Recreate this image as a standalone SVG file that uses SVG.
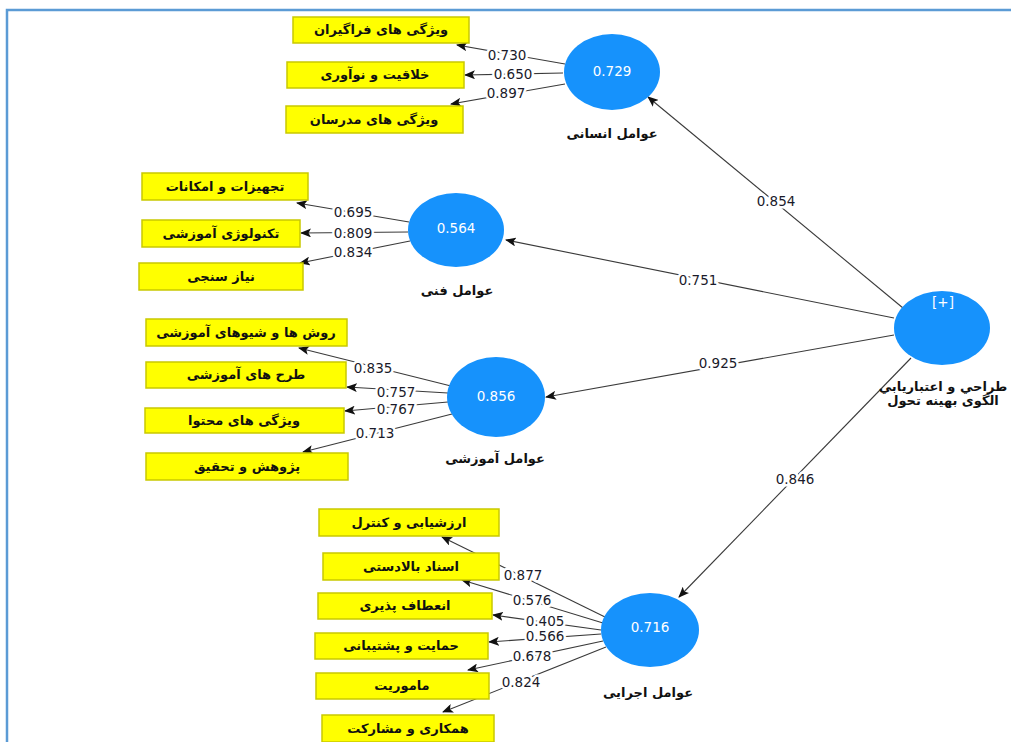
<svg xmlns="http://www.w3.org/2000/svg" width="1011" height="742" viewBox="0 0 1011 742">
<style>
.bg{fill:#fff}
.frame{fill:none;stroke:#5b9bd5;stroke-width:2.5}
.box{fill:#ffff00;stroke:#c9c900;stroke-width:1.5}
.lv{fill:#1692fc}
.bt{font-family:"DejaVu Sans",sans-serif;font-size:13px;font-weight:bold;fill:#111;text-anchor:middle;direction:rtl}
.lt{font-family:"DejaVu Sans",sans-serif;font-size:13px;font-weight:bold;fill:#111;text-anchor:middle;direction:rtl}
.val{font-family:"DejaVu Sans",sans-serif;font-size:13.5px;fill:#fff;text-anchor:middle}
.ed{stroke:#3a3a3a;stroke-width:1.1;fill:none;marker-end:url(#ah)}
.el{font-family:"DejaVu Sans",sans-serif;font-size:13.5px;fill:#1a1a2a;text-anchor:middle;stroke:#fff;stroke-width:5;paint-order:stroke;stroke-linejoin:round}
</style>
<defs>
<marker id="ah" markerUnits="userSpaceOnUse" markerWidth="11" markerHeight="9" refX="10" refY="4.5" orient="auto">
<path d="M0,0 L11,4.5 L0,9 L2.5,4.5 z" fill="#111"/>
</marker>
</defs>
<rect class="bg" x="0" y="0" width="1011" height="742"/>
<path class="frame" d="M7,745 L7,10 L1015,10"/>

<g id="connectors">
<line class="ed" x1="903" y1="308" x2="648" y2="97"/>
<line class="ed" x1="894" y1="318" x2="506" y2="240"/>
<line class="ed" x1="894" y1="335" x2="546" y2="397"/>
<line class="ed" x1="911" y1="358" x2="679" y2="597"/>
<line class="ed" x1="565" y1="64" x2="457" y2="45"/>
<line class="ed" x1="563" y1="73" x2="465" y2="75"/>
<line class="ed" x1="565" y1="84" x2="451" y2="104"/>
<line class="ed" x1="409" y1="222" x2="297" y2="203"/>
<line class="ed" x1="408" y1="232" x2="301" y2="233"/>
<line class="ed" x1="410" y1="241" x2="300" y2="263"/>
<line class="ed" x1="451" y1="386" x2="299" y2="348"/>
<line class="ed" x1="448" y1="393" x2="347" y2="387"/>
<line class="ed" x1="448" y1="402" x2="345" y2="411"/>
<line class="ed" x1="452" y1="414" x2="303" y2="452"/>
<line class="ed" x1="605" y1="617" x2="442" y2="537"/>
<line class="ed" x1="603" y1="623" x2="462" y2="580"/>
<line class="ed" x1="601" y1="630" x2="493" y2="615"/>
<line class="ed" x1="601" y1="634" x2="489" y2="642"/>
<line class="ed" x1="603" y1="641" x2="468" y2="670"/>
<line class="ed" x1="606" y1="647" x2="443" y2="712"/>
<text class="el" x="776" y="206">0.854</text>
<text class="el" x="698" y="285">0.751</text>
<text class="el" x="718" y="368">0.925</text>
<text class="el" x="795" y="484">0.846</text>
<text class="el" x="507" y="60">0.730</text>
<text class="el" x="513" y="79">0.650</text>
<text class="el" x="506" y="98">0.897</text>
<text class="el" x="353" y="217">0.695</text>
<text class="el" x="353" y="238">0.809</text>
<text class="el" x="353" y="257">0.834</text>
<text class="el" x="373" y="373">0.835</text>
<text class="el" x="396" y="397">0.757</text>
<text class="el" x="396" y="414">0.767</text>
<text class="el" x="375" y="438">0.713</text>
<text class="el" x="523" y="580">0.877</text>
<text class="el" x="532" y="605">0.576</text>
<text class="el" x="545" y="626">0.405</text>
<text class="el" x="545" y="641">0.566</text>
<text class="el" x="532" y="661">0.678</text>
<text class="el" x="521" y="687">0.824</text>
</g>

<g id="central">
<ellipse class="lv" cx="942" cy="328" rx="48" ry="37"/>
<text class="val" x="943" y="307" font-size="11">[+]</text>
<text class="lt" x="943" y="391">طراحي و اعتباريابي</text>
<text class="lt" x="943" y="405">الگوی بهینه تحول</text>
</g>

<g id="ensani">
<ellipse class="lv" cx="612" cy="72" rx="48" ry="38"/>
<text class="val" x="612" y="76">0.729</text>
<text class="lt" x="612" y="138">عوامل انسانی</text>
</g>
<g id="fani">
<ellipse class="lv" cx="456" cy="230" rx="48" ry="37"/>
<text class="val" x="456" y="233">0.564</text>
<text class="lt" x="457" y="295">عوامل فنی</text>
</g>
<g id="amoozeshi">
<ellipse class="lv" cx="496" cy="397" rx="49" ry="40"/>
<text class="val" x="496" y="401">0.856</text>
<text class="lt" x="495" y="463">عوامل آموزشی</text>
</g>
<g id="ejraei">
<ellipse class="lv" cx="650" cy="630" rx="49" ry="37"/>
<text class="val" x="650" y="632">0.716</text>
<text class="lt" x="648" y="697">عوامل اجرایی</text>
</g>

<g id="i1"><rect class="box" x="293" y="17" width="176" height="26"/><text class="bt" x="381" y="34">ویژگی های فراگیران</text></g>
<g id="i2"><rect class="box" x="287" y="62" width="177" height="26"/><text class="bt" x="375" y="79">خلاقیت و نوآوری</text></g>
<g id="i3"><rect class="box" x="286" y="106" width="177" height="27"/><text class="bt" x="374" y="124">ویژگی های مدرسان</text></g>
<g id="i4"><rect class="box" x="142" y="173" width="166" height="27"/><text class="bt" x="225" y="191">تجهیزات و امکانات</text></g>
<g id="i5"><rect class="box" x="142" y="220" width="158" height="27"/><text class="bt" x="221" y="238">تکنولوژی آموزشی</text></g>
<g id="i6"><rect class="box" x="139" y="263" width="164" height="27"/><text class="bt" x="221" y="281">نیاز سنجی</text></g>
<g id="i7"><rect class="box" x="146" y="319" width="201" height="27"/><text class="bt" x="246" y="337">روش ها و شیوهای آموزشی</text></g>
<g id="i8"><rect class="box" x="146" y="362" width="200" height="26"/><text class="bt" x="246" y="379">طرح های آموزشی</text></g>
<g id="i9"><rect class="box" x="145" y="408" width="199" height="25"/><text class="bt" x="244" y="425">ویژگی های محتوا</text></g>
<g id="i10"><rect class="box" x="146" y="453" width="202" height="27"/><text class="bt" x="247" y="471">پژوهش و تحقیق</text></g>
<g id="i11"><rect class="box" x="319" y="509" width="180" height="27"/><text class="bt" x="409" y="527">ارزشیابی و کنترل</text></g>
<g id="i12"><rect class="box" x="323" y="553" width="176" height="27"/><text class="bt" x="411" y="571">اسناد بالادستی</text></g>
<g id="i13"><rect class="box" x="318" y="593" width="174" height="26"/><text class="bt" x="405" y="610">انعطاف پذیری</text></g>
<g id="i14"><rect class="box" x="315" y="633" width="173" height="26"/><text class="bt" x="401" y="650">حمایت و پشتیبانی</text></g>
<g id="i15"><rect class="box" x="316" y="673" width="173" height="26"/><text class="bt" x="402" y="690">ماموریت</text></g>
<g id="i16"><rect class="box" x="322" y="715" width="172" height="27"/><text class="bt" x="408" y="733">همکاری و مشارکت</text></g>
</svg>
